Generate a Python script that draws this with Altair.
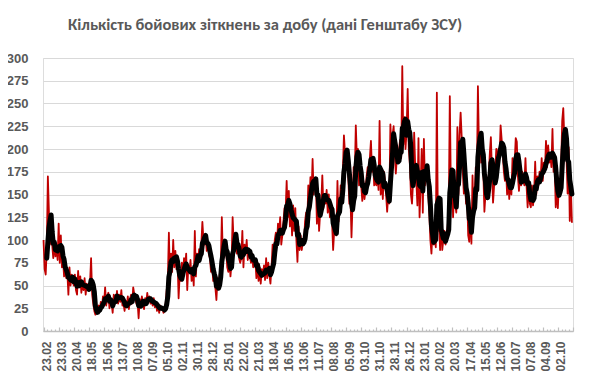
import altair as alt
import pandas as pd

TITLE = "Кількість бойових зіткнень за добу (дані Генштабу ЗСУ)"
START = "2023-02-23"
STEP = "2D"

# daily combat clashes, one value per 2 days, grouped by 28-day label period
p01 = [100, 68, 62, 90, 170, 130, 95, 115, 95, 80, 100, 82, 92, 78]
p02 = [118, 75, 105, 70, 80, 60, 72, 58, 65, 40, 70, 50, 62, 55]
p03 = [50, 62, 45, 40, 66, 48, 60, 42, 55, 45, 58, 40, 52, 46]
p04 = [45, 52, 80, 40, 30, 22, 18, 22, 20, 28, 22, 32, 25, 38]
p05 = [30, 48, 28, 36, 42, 25, 35, 30, 20, 40, 38, 32, 44, 30]
p06 = [40, 32, 45, 28, 30, 22, 33, 26, 38, 24, 35, 40, 30, 48]
p07 = [40, 35, 30, 32, 14, 35, 28, 38, 30, 24, 36, 30, 42, 32]
p08 = [38, 30, 34, 28, 36, 26, 32, 22, 30, 20, 28, 24, 26, 20]
p09 = [22, 30, 45, 55, 108, 55, 85, 65, 100, 70, 88, 68, 80, 36]
p10 = [62, 55, 75, 60, 80, 70, 85, 45, 72, 65, 78, 55, 68, 50]
p11 = [110, 60, 85, 75, 90, 80, 95, 120, 100, 95, 105, 88, 98, 85]
p12 = [80, 65, 72, 55, 60, 48, 34, 58, 48, 62, 70, 125, 80, 95]
p13 = [95, 88, 70, 65, 80, 60, 75, 125, 95, 100, 105, 85, 90, 80]
p14 = [75, 80, 110, 70, 95, 85, 100, 78, 90, 82, 75, 85, 70, 80]
p15 = [78, 58, 75, 55, 70, 52, 68, 60, 72, 56, 80, 58, 75, 62]
p16 = [52, 70, 95, 80, 100, 108, 95, 118, 105, 125, 95, 105, 120, 135]
p17 = [130, 165, 125, 154, 115, 140, 105, 138, 110, 135, 100, 76, 115, 89]
p18 = [105, 89, 100, 95, 120, 130, 115, 160, 140, 169, 150, 189, 150, 165]
p19 = [165, 118, 150, 110, 130, 140, 171, 135, 150, 140, 155, 130, 150, 125]
p20 = [140, 120, 89, 110, 125, 105, 165, 120, 135, 160, 150, 175, 215, 195]
p21 = [200, 185, 170, 140, 150, 103, 140, 180, 170, 226, 190, 200, 160, 175]
p22 = [160, 143, 165, 145, 155, 170, 180, 175, 190, 209, 175, 185, 160, 165]
p23 = [160, 175, 155, 231, 150, 165, 145, 175, 165, 150, 131, 150, 140, 227]
p24 = [200, 215, 225, 195, 173, 190, 185, 200, 210, 190, 291, 205, 235, 200]
p25 = [220, 266, 200, 184, 150, 140, 165, 218, 180, 165, 138, 212, 125, 160]
p26 = [200, 130, 211, 160, 180, 175, 150, 130, 100, 85, 110, 95, 105, 92]
p27 = [262, 110, 120, 89, 129, 89, 100, 110, 95, 105, 115, 130, 258, 150]
p28 = [170, 125, 150, 140, 130, 224, 150, 215, 240, 213, 175, 151, 165, 140]
p29 = [150, 105, 98, 135, 96, 171, 125, 150, 180, 165, 269, 200, 215, 185]
p30 = [200, 175, 131, 150, 145, 160, 170, 195, 213, 175, 141, 160, 175, 200]
p31 = [185, 200, 190, 226, 210, 195, 175, 165, 180, 150, 170, 145, 165, 150]
p32 = [190, 170, 185, 212, 208, 170, 154, 170, 160, 175, 165, 160, 190, 160]
p33 = [136, 165, 140, 136, 160, 138, 150, 186, 150, 170, 160, 175, 165, 190]
p34 = [165, 185, 175, 209, 180, 204, 185, 195, 180, 222, 175, 185, 136, 160]
p35 = [135, 165, 150, 180, 231, 245, 210, 200, 190, 151, 202, 121, 160, 119]

periods = [p01, p02, p03, p04, p05, p06, p07, p08, p09, p10, p11, p12,
           p13, p14, p15, p16, p17, p18, p19, p20, p21, p22, p23, p24,
           p25, p26, p27, p28, p29, p30, p31, p32, p33, p34, p35]
clashes = [v for p in periods for v in p]
dates = pd.date_range(START, periods=len(clashes), freq=STEP)
df = pd.DataFrame({"date": dates, "clashes": clashes})

label_dates = pd.date_range(START, "2025-10-02", freq="28D")
tick_dates = pd.date_range(START, "2025-10-30", freq="7D")
y_ticks = list(range(0, 301, 25))


def dt(ts):
    return alt.DateTime(year=int(ts.year), month=int(ts.month), date=int(ts.day))


W, H = 530, 273
GREY = "#595959"
LINE_GREY = "#BFBFBF"

x_scale = alt.Scale(domain=[alt.DateTime(year=2023, month=2, date=22),
                            alt.DateTime(year=2025, month=10, date=30)])
y_scale = alt.Scale(domain=[0, 300], nice=False)

base = alt.Chart(df)

red = base.mark_line(color="#C00000", strokeWidth=1.8, strokeJoin="round").encode(
    x=alt.X("date:T", scale=x_scale, title=None,
            axis=alt.Axis(values=[dt(d) for d in label_dates], format="%d.%m",
                          labelAngle=270, ticks=False, grid=False,
                          domainColor=LINE_GREY, domainWidth=1.5,
                          labelFont="Liberation Sans", labelFontSize=12,
                          labelFontWeight="bold", labelColor=GREY,
                          labelPadding=10, labelOffset=3, labelOverlap=False)),
    y=alt.Y("clashes:Q", scale=y_scale, title=None,
            axis=alt.Axis(values=y_ticks, grid=True, gridColor="#D9D9D9",
                          gridWidth=1, domain=False, ticks=False,
                          labelFont="Liberation Sans", labelFontSize=13,
                          labelFontWeight="bold", labelColor=GREY,
                          labelPadding=15)),
)

black = base.transform_window(
    ma="mean(clashes)", n="count()", frame=[-3, 0], sort=[alt.SortField("date")]
).transform_filter("datum.n >= 4").mark_line(
    color="#000000", strokeWidth=5, strokeJoin="round", strokeCap="round"
).encode(
    x=alt.X("date:T", scale=x_scale, title=None,
            axis=alt.Axis(orient="top", offset=-H, values=[dt(d) for d in tick_dates],
                          labels=False, domain=False, grid=False,
                          tickColor=LINE_GREY, tickWidth=1.2,
                          tickSize={"condition": {
                              "test": "round((datum.value - datetime(2023, 1, 23)) / 86400000) % 28 === 0",
                              "value": 4}, "value": 2})),
    y=alt.Y("ma:Q", scale=y_scale, axis=None),
)

chart = alt.layer(red, black).resolve_axis(x="independent", y="independent").properties(
    width=W, height=H,
    autosize=alt.AutoSizeParams(type="none"),
    padding={"left": 35, "top": 50, "right": 9, "bottom": 44},
    title=alt.TitleParams(TITLE, anchor="middle", dx=-43, dy=3, offset=22,
                          font="Carlito, Liberation Sans Narrow, Roboto",
                          fontSize=16.5, fontWeight="bold", color=GREY),
).configure_view(stroke=None).configure(background="white")

chart.save("out.html", embed_options={"renderer": "svg", "actions": False})
